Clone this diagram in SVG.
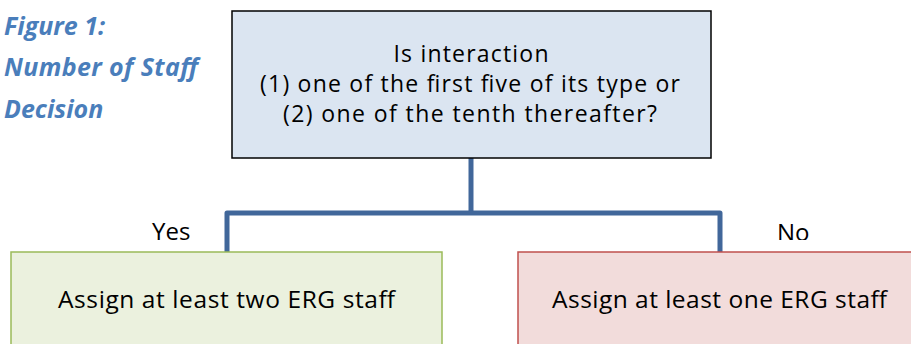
<svg xmlns="http://www.w3.org/2000/svg" width="911" height="344" viewBox="0 0 911 344">
<style>
.t{font-family:"Open Sans","Liberation Sans",sans-serif;fill:#000;}
.title{font-family:"Open Sans","Liberation Sans",sans-serif;font-weight:bold;font-style:italic;fill:#4a7ebb;font-size:25px;}
.conn{fill:none;stroke:#41679a;stroke-width:5;stroke-linejoin:round;}
</style>
<defs>
<clipPath id="noclip"><rect x="700" y="200" width="211" height="40"/></clipPath>
</defs>
<rect width="911" height="344" fill="#fff"/>
<g id="title">
<text class="title" x="4" y="35">Figure 1:</text>
<text class="title" x="4" y="76" textLength="194">Number of Staff</text>
<text class="title" x="4" y="118">Decision</text>
</g>
<g id="connectors">
<path class="conn" d="M471 158 V213"/>
<path class="conn" d="M227 252 V213 H720 V252"/>
</g>
<g id="question">
<rect x="232" y="11" width="479" height="147" fill="#dbe5f1" stroke="#000" stroke-width="1.5"/>
<text class="t" font-size="23" text-anchor="middle" x="471" y="62" textLength="155">Is interaction</text>
<text class="t" font-size="23" text-anchor="middle" x="470" y="92" textLength="420">(1) one of the first five of its type or</text>
<text class="t" font-size="23" text-anchor="middle" x="470" y="122" textLength="374">(2) one of the tenth thereafter?</text>
</g>
<g id="yes-label">
<text class="t" font-size="24" x="152" y="240">Yes</text>
</g>
<g id="no-label">
<text class="t" font-size="24" x="777" y="241" clip-path="url(#noclip)">No</text>
</g>
<g id="yes">
<rect x="11" y="252" width="431" height="100" fill="#ebf1de" stroke="#9bbb59" stroke-width="1.5"/>
<text class="t" font-size="24.5" x="58" y="308" textLength="337">Assign at least two ERG staff</text>
</g>
<g id="no">
<rect x="518" y="252" width="400" height="100" fill="#f2dcdb" stroke="#c0504d" stroke-width="1.5"/>
<text class="t" font-size="24.5" x="552" y="308" textLength="335">Assign at least one ERG staff</text>
</g>
</svg>
